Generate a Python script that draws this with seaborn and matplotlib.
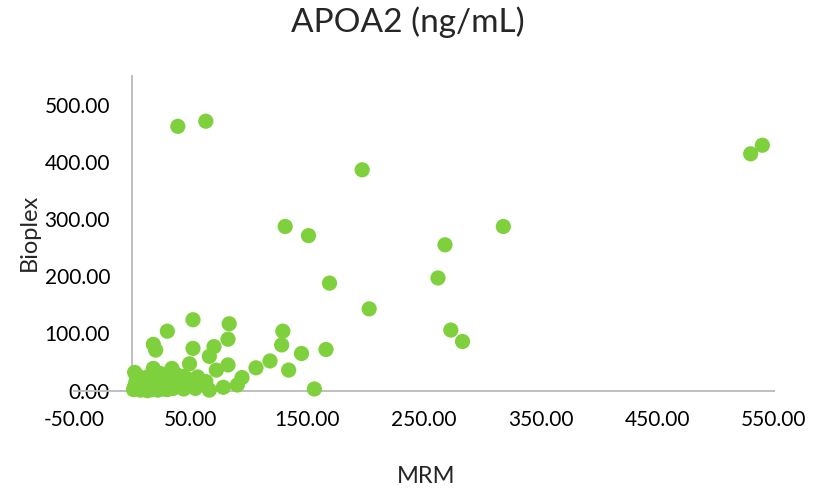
import matplotlib
matplotlib.use("Agg")
import matplotlib.pyplot as plt
import seaborn as sns
import pandas as pd

# MRM vs Bioplex, APOA2 (ng/mL)
mrm = [
    39, 63, 197, 131, 151, 169, 203, 268, 262, 318, 530, 540,
    52, 83, 30, 129, 82, 18, 20, 52, 70, 66, 128, 145, 166, 118, 106, 134, 156, 273, 283,
    49, 34, 18, 2, 72, 82, 94, 90, 78, 54, 66, 56, 63, 41, 44,
    1, 2, 3, 4, 5, 6, 7, 8, 9, 10, 11, 12, 13, 14, 15, 16, 17, 18, 19, 20,
    21, 22, 23, 24, 25, 26, 27, 28, 29, 30, 31, 32, 34, 35, 36, 38, 40, 42, 44, 46, 47,
]
bioplex = [
    462, 471, 386, 287, 271, 188, 143, 255, 197, 287, 414, 429,
    124, 117, 104, 104, 90, 81, 71, 74, 77, 60, 80, 65, 72, 52, 40, 36, 3, 106, 86,
    47, 39, 39, 32, 36, 45, 23, 10, 6, 4, 1, 24, 16, 19, 25,
    2, 8, 15, 27, 4, 11, 1, 18, 6, 22, 3, 13, 0, 25, 8, 16, 2, 29, 10, 5,
    20, 1, 14, 30, 7, 18, 3, 11, 24, 2, 17, 8, 21, 4, 12, 28, 9, 15, 3, 22, 10,
]

x_ticks = [-50, 50, 150, 250, 350, 450, 550]
y_ticks = [0, 100, 200, 300, 400, 500]

df = pd.DataFrame({"MRM": mrm, "Bioplex": bioplex})

sns.set_style("white")
plt.rcParams["font.family"] = ["Lato", "DejaVu Sans"]

fig = plt.figure(figsize=(8.15, 4.91), dpi=100)
ax = fig.add_axes([74 / 815, 100.3 / 491, 700 / 815, 314.7 / 491])

sns.scatterplot(data=df, x="MRM", y="Bioplex", ax=ax, color="#7ED13C",
                s=120, edgecolor="none", linewidth=0, clip_on=False, zorder=3)

ax.set_xlim(-50, 550)
ax.set_ylim(0, 550)
ax.set_xticks(x_ticks)
ax.set_yticks(y_ticks)
ax.set_xticklabels([f"{v:.2f}" for v in x_ticks])
ax.set_yticklabels([f"{v:.2f}" for v in y_ticks])
ax.tick_params(axis="both", length=0, labelsize=15, colors="#000000")
ax.tick_params(axis="x", pad=14)
ax.tick_params(axis="y", pad=16)

for side in ["top", "right"]:
    ax.spines[side].set_visible(False)
ax.spines["left"].set_position(("data", 0))
ax.spines["bottom"].set_position(("data", 0))
for side in ["left", "bottom"]:
    ax.spines[side].set_color("#BFBFBF")
    ax.spines[side].set_linewidth(1.4)
    ax.spines[side].set_zorder(1)

ax.set_xlabel("")
ax.set_ylabel("")
fig.text(408 / 815, 1 - 31.7 / 491, "APOA2 (ng/mL)", ha="center", va="baseline", fontsize=24)
fig.text(426 / 815, 1 - 483 / 491, "MRM", ha="center", va="baseline", fontsize=17)
fig.text(29 / 815, 1 - 232 / 491, "Bioplex", ha="center", va="center", rotation=90, fontsize=17)

fig.savefig("out.png", dpi=100)
